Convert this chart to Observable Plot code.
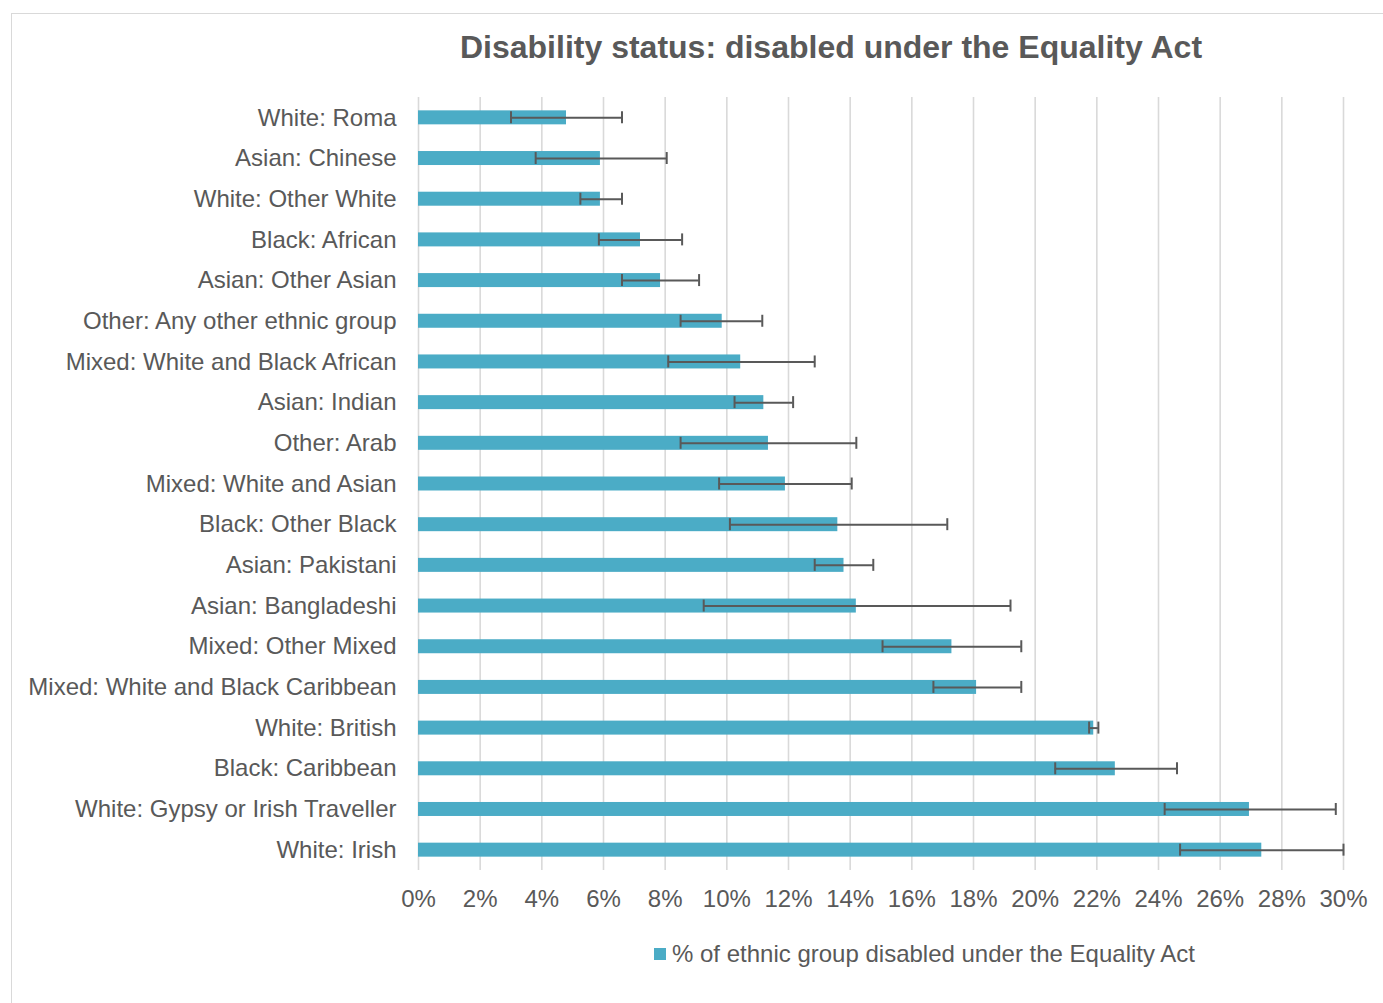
<!DOCTYPE html>
<html>
<head>
<meta charset="utf-8">
<script src="https://cdn.jsdelivr.net/npm/d3@7"></script>
<script src="https://cdn.jsdelivr.net/npm/@observablehq/plot@0.6"></script>
<style>
  html, body { margin: 0; padding: 0; background: #fff; overflow: hidden; }
  #wrap { position: relative; width: 1383px; height: 1003px; font-family: "Liberation Sans", Arial, sans-serif; color: #595959; }
  #frame { position: absolute; left: 11px; top: 13px; width: 1420px; height: 1100px; border: 1.5px solid #d9d9d9; box-sizing: border-box; }
  #title { position: absolute; left: 0; width: 1662px; top: 29px; text-align: center; font-weight: bold; font-size: 32px; white-space: nowrap; }
  #chart { position: absolute; left: 0; top: 80px; }
  #legend { position: absolute; left: 654px; top: 940px; font-size: 24px; white-space: nowrap; display: flex; align-items: center; }
  #legend .sw { display: inline-block; width: 12px; height: 12px; background: #4BACC6; margin-right: 6px; }
</style>
</head>
<body>
<div id="wrap">
  <div id="frame"></div>
  <div id="title">Disability status: disabled under the Equality Act</div>
  <div id="chart"></div>
  <div id="legend"><span class="sw"></span><span>% of ethnic group disabled under the Equality Act</span></div>
</div>
<script>
const categories = [
  "White: Roma",
  "Asian: Chinese",
  "White: Other White",
  "Black: African",
  "Asian: Other Asian",
  "Other: Any other ethnic group",
  "Mixed: White and Black African",
  "Asian: Indian",
  "Other: Arab",
  "Mixed: White and Asian",
  "Black: Other Black",
  "Asian: Pakistani",
  "Asian: Bangladeshi",
  "Mixed: Other Mixed",
  "Mixed: White and Black Caribbean",
  "White: British",
  "Black: Caribbean",
  "White: Gypsy or Irish Traveller",
  "White: Irish"
];
const values = [4.8, 5.9, 5.9, 7.2, 7.85, 9.85, 10.45, 11.2, 11.35, 11.9, 13.6, 13.8, 14.2, 17.3, 18.1, 21.9, 22.6, 26.95, 27.35];
const lower  = [3.0, 3.8, 5.25, 5.85, 6.6, 8.5, 8.1, 10.25, 8.5, 9.75, 10.1, 12.85, 9.25, 15.05, 16.7, 21.75, 20.65, 24.2, 24.7];
const upper  = [6.6, 8.05, 6.6, 8.55, 9.1, 11.15, 12.85, 12.15, 14.2, 14.05, 17.15, 14.75, 19.2, 19.55, 19.55, 22.05, 24.6, 29.75, 30.0];
const xTicks = [0, 2, 4, 6, 8, 10, 12, 14, 16, 18, 20, 22, 24, 26, 28, 30];

const rows = categories.map((c, i) => ({category: c, value: values[i], lo: lower[i], hi: upper[i]}));

const barColor = "#4BACC6";
const errColor = "#595959";

const chart = Plot.plot({
  width: 1383,
  height: 840,
  marginLeft: 418,
  marginRight: 40,
  marginTop: 17,
  marginBottom: 50,
  style: {fontFamily: "'Liberation Sans', Arial, sans-serif", fontSize: "24px", color: "#595959", background: "transparent"},
  x: {domain: [0, 30], label: null},
  y: {domain: categories, label: null, paddingInner: 0.656, paddingOuter: 0.328, round: false},
  marks: [
    Plot.ruleX(xTicks, {stroke: "#d9d9d9", strokeWidth: 1.6}),
    Plot.barX(rows, {x: "value", y: "category", fill: barColor}),
    Plot.ruleY(rows, {x1: "lo", x2: "hi", y: "category", stroke: errColor, strokeWidth: 2}),
    Plot.tickX(rows, {x: "lo", y: "category", stroke: errColor, strokeWidth: 2, insetTop: 1, insetBottom: 1}),
    Plot.tickX(rows, {x: "hi", y: "category", stroke: errColor, strokeWidth: 2, insetTop: 1, insetBottom: 1}),
    Plot.axisX({ticks: xTicks, tickSize: 0, tickPadding: 19, tickFormat: d => d + "%", fill: "#595959", label: null}),
    Plot.axisY({tickSize: 0, tickPadding: 22, fill: "#595959", label: null})
  ]
});
document.getElementById("chart").appendChild(chart);
</script>
</body>
</html>
